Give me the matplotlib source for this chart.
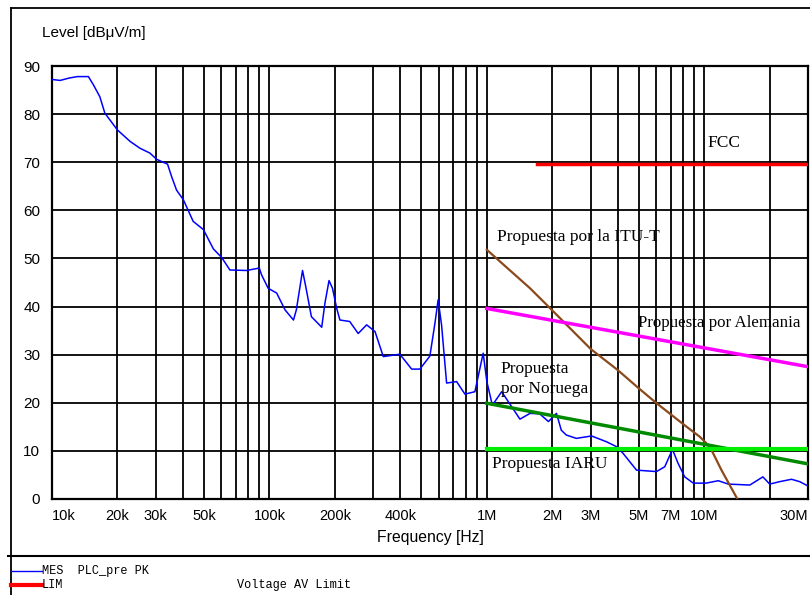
import matplotlib.pyplot as plt
import numpy as np
from matplotlib.lines import Line2D

# measured curve (MES PLC_pre PK), frequency in Hz, level in dBuV/m
mes_freq = [10.0e3, 10.9e3, 12.0e3, 13.1e3, 14.7e3, 15.5e3, 16.6e3, 17.5e3, 20.0e3, 22.9e3,
            25.4e3, 28.2e3, 30.3e3, 34.0e3, 35.5e3, 37.4e3, 40.2e3, 44.6e3, 49.7e3, 55.2e3,
            60.3e3, 65.8e3, 78.5e3, 89.8e3, 92e3, 98.7e3, 108e3, 118e3, 129e3, 133e3,
            142e3, 147e3, 156e3, 174e3, 180e3, 188e3, 195e3, 204e3, 211e3, 234e3,
            256e3, 280e3, 306e3, 334e3, 398e3, 451e3, 492e3, 547e3, 577e3, 597e3,
            619e3, 653e3, 726e3, 793e3, 881e3, 962e3, 1.0e6, 1.06e6, 1.17e6, 1.3e6,
            1.42e6, 1.58e6, 1.75e6, 1.92e6, 2.09e6, 2.2e6, 2.32e6, 2.58e6, 3.03e6, 3.55e6,
            3.94e6, 4.23e6, 4.88e6, 6.03e6, 6.58e6, 7.14e6, 7.58e6, 8.13e6, 8.9e6, 10.2e6,
            11.6e6, 12.9e6, 16.2e6, 18.6e6, 20e6, 22.2e6, 25.2e6, 27.5e6, 30e6]
mes_level = [87.2, 87.0, 87.5, 87.8, 87.8, 86.1, 83.6, 80.2, 76.7, 74.3,
             72.9, 71.9, 70.6, 69.6, 67.0, 64.2, 62.2, 57.7, 56.0, 52.0,
             50.2, 47.6, 47.5, 48.0, 46.6, 43.8, 42.8, 39.3, 37.2, 39.3,
             47.5, 44.1, 37.9, 35.7, 40.7, 45.4, 43.8, 39.6, 37.2, 36.9,
             34.4, 36.2, 34.8, 29.6, 30.1, 27.0, 27.0, 29.7, 36.5, 41.4,
             36.2, 24.1, 24.4, 21.8, 22.3, 30.3, 24.4, 19.5, 22.3, 19.2,
             16.6, 17.8, 17.7, 16.1, 17.8, 14.3, 13.3, 12.6, 13.1, 11.9,
             10.9, 9.5, 6.0, 5.7, 6.7, 10.3, 7.4, 4.6, 3.3, 3.3,
             3.8, 3.1, 2.9, 4.6, 3.1, 3.6, 4.1, 3.6, 2.7]

# limit proposals
fcc_freq = [1.705e6, 30e6]
fcc_level = [69.6, 69.6]
itu_freq = [1e6, 1.58e6, 2e6, 3e6, 4e6, 5e6, 6e6, 8.3e6, 9.5e6, 10.6e6, 12e6, 14.2e6]
itu_level = [51.8, 43.8, 39.2, 31.2, 26.8, 23.0, 20.0, 15.0, 13.0, 10.9, 6.0, 0.0]
ger_freq = [1e6, 30e6]
ger_level = [39.6, 27.5]
nor_freq = [1e6, 30e6]
nor_level = [19.9, 7.3]
iaru_freq = [1e6, 30e6]
iaru_level = [10.4, 10.4]

xtick_vals = [10e3, 20e3, 30e3, 50e3, 100e3, 200e3, 400e3, 1e6, 2e6, 3e6, 5e6, 7e6, 10e6, 30e6]
xtick_text = ['10k', '20k', '30k', '50k', '100k', '200k', '400k', '1M', '2M', '3M', '5M', '7M', '10M', '30M']

fig = plt.figure(figsize=(8.1, 5.95), dpi=100)
ax = fig.add_axes([52/810, 1-499/595, (808-52)/810, (499-66)/595])

ax.set_xscale('log')
ax.set_xlim(1e4, 3e7)
ax.set_ylim(0, 90)

grid_minor = [m * 10**e for e in range(4, 8) for m in range(1, 10) if m * 10**e <= 3e7]
ax.set_xticks(grid_minor, minor=True)
ax.set_xticks(xtick_vals)
ax.set_xticklabels(xtick_text, fontsize=10.5, family='Liberation Sans')
ax.set_yticks(np.arange(0, 91, 10))
ax.set_yticklabels([str(v) for v in range(0, 91, 10)], fontsize=11, family='Liberation Sans')
ax.tick_params(which='both', length=0)
ax.tick_params(axis='x', pad=7.5)
ax.tick_params(axis='y', pad=8.5)
lbls = ax.get_xticklabels()
lbls[0].set_ha('left')
lbls[-1].set_ha('right')
ax.xaxis.set_minor_formatter(plt.NullFormatter())
ax.grid(True, which='both', axis='x', color='black', linewidth=1.3)
ax.grid(True, which='major', axis='y', color='black', linewidth=1.3)
ax.set_axisbelow(True)
for s in ax.spines.values():
    s.set_linewidth(1.6)

ax.plot(mes_freq, mes_level, color='#0000ff', linewidth=1.1, zorder=3)
ax.plot(fcc_freq, fcc_level, color='#ff0000', linewidth=2.5, zorder=4)
ax.plot(itu_freq, itu_level, color='#8b4a1c', linewidth=1.6, zorder=4)
ax.plot(ger_freq, ger_level, color='#ff00ff', linewidth=2.5, zorder=4)
ax.plot(nor_freq, nor_level, color='#008a00', linewidth=2.5, zorder=4)
ax.plot(iaru_freq, iaru_level, color='#00ee00', linewidth=3, zorder=4)

serif = dict(family='Liberation Serif', fontsize=12.5, color='black', va='center', zorder=5)
ax.text(10.3e6, 74.0, 'FCC', **serif)
ax.text(1.11e6, 54.4, 'Propuesta por la ITU-T', **serif)
ax.text(4.95e6, 36.6, 'Propuesta por Alemania', family='Liberation Serif', fontsize=12.2,
        color='black', va='center', zorder=5)
ax.text(1.156e6, 27.0, 'Propuesta', **serif)
ax.text(1.156e6, 22.9, 'por Noruega', **serif)
ax.text(1.051e6, 7.3, 'Propuesta IARU', **serif)

ax.set_xlabel('Frequency [Hz]', fontsize=11.3, family='Liberation Sans', labelpad=5)
fig.text(42/810, 1-33/595, 'Level [dB\u03bcV/m]', fontsize=11, family='Liberation Sans',
         va='center', ha='left')

# outer frame and legend area
fig.add_artist(Line2D([11/810, 11/810], [0, 1-8/595], color='black', linewidth=1.3))
fig.add_artist(Line2D([11/810, 1], [1-8/595, 1-8/595], color='black', linewidth=1.3))
fig.add_artist(Line2D([8/810, 1], [1-556/595, 1-556/595], color='black', linewidth=1.5))
fig.add_artist(Line2D([11/810, 42/810], [1-571/595, 1-571/595], color='#0000ff', linewidth=1.0))
fig.add_artist(Line2D([11/810, 42/810], [1-585/595, 1-585/595], color='#ff0000', linewidth=3))
mono = dict(family='Liberation Mono', fontsize=8.6, va='center', ha='left')
fig.text(42/810, 1-571/595, 'MES  PLC_pre PK', **mono)
fig.text(42/810, 1-585/595, 'LIM', **mono)
fig.text(237/810, 1-585/595, 'Voltage AV Limit', **mono)

fig.savefig('out.png', dpi=100)
